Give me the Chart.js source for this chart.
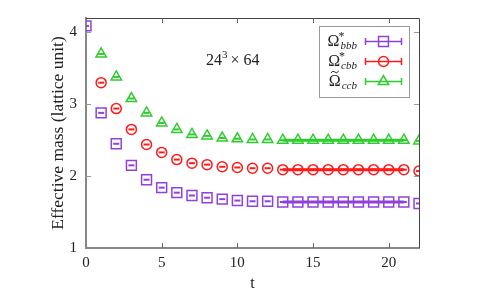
<!DOCTYPE html>
<html><head><meta charset="utf-8">
<script src="https://cdn.jsdelivr.net/npm/chart.js@4"></script>
<style>html,body{margin:0;padding:0;background:#fff}#wrap{width:488px;height:293px}</style>
</head><body><div id="wrap"><canvas id="c" width="488" height="293"></canvas></div>
<script>
const tValues = [0,1,2,3,4,5,6,7,8,9,10,11,12,13,14,15,16,17,18,19,20,21,22];
const bbb = [4.09,2.88,2.45,2.15,1.95,1.84,1.77,1.73,1.70,1.68,1.66,1.65,1.65,1.64,1.64,1.64,1.64,1.64,1.64,1.64,1.64,1.64,1.62];
const cbbT = tValues.slice(1);
const cbb = [3.30,2.94,2.65,2.44,2.33,2.23,2.18,2.16,2.13,2.12,2.11,2.11,2.09,2.09,2.09,2.09,2.09,2.09,2.09,2.09,2.09,2.07];
const ccbT = tValues.slice(1);
const ccb = [3.70,3.38,3.08,2.88,2.74,2.65,2.58,2.56,2.53,2.52,2.51,2.51,2.50,2.50,2.50,2.50,2.50,2.50,2.50,2.50,2.50,2.49];
const fitRange = [13, 21];
const fitValues = [1.64, 2.09, 2.50];
const fitErr = [0.015, 0.015, 0.015];
const xTicks = [0,5,10,15,20];
const yTicks = [1,2,3,4];
const seriesLabels = ['bbb','cbb','ccb'];
const colors = ['#9040e0','#ff1a1a','#2ecc2e'];
const light = ['rgba(144,64,224,0.35)','rgba(255,26,26,0.35)','rgba(46,204,46,0.35)'];
const styles = ['rect','circle','triangle'];
const radii = [7,5,6];
const xs = [tValues, cbbT, ccbT];
const ys = [bbb, cbb, ccb];
const FONT = "'Liberation Serif', 'DejaVu Serif', serif";

const datasets = [];
for (let i=0;i<3;i++){
  const pts = xs[i].map((t,k)=>({x:t,y:ys[i][k]}));
  datasets.push({data:[{x:fitRange[0],y:fitValues[i]+fitErr[i]},{x:fitRange[1],y:fitValues[i]+fitErr[i]}],showLine:true,borderWidth:0,pointRadius:0,fill:'+1',backgroundColor:light[i],borderColor:'transparent'});
  datasets.push({data:[{x:fitRange[0],y:fitValues[i]-fitErr[i]},{x:fitRange[1],y:fitValues[i]-fitErr[i]}],showLine:true,borderWidth:0,pointRadius:0,fill:false,borderColor:'transparent'});
  datasets.push({data:[{x:fitRange[0],y:fitValues[i]},{x:fitRange[1],y:fitValues[i]}],showLine:true,borderWidth:3,pointRadius:0,borderColor:colors[i]});
  datasets.push({data:pts,showLine:false,pointStyle:styles[i],pointRadius:radii[i],pointBorderWidth:1.5,pointBorderColor:colors[i],pointBackgroundColor:'transparent'});
  datasets.push({data:pts,showLine:false,pointStyle:'line',pointRadius:3,pointBorderWidth:2,pointBorderColor:colors[i]});
}

const deco = {
  id:'deco',
  afterDraw(chart){
    const ctx = chart.ctx, a = chart.chartArea, sx = chart.scales.x, sy = chart.scales.y;
    ctx.save();
    ctx.strokeStyle='#444'; ctx.lineWidth=1;
    ctx.beginPath(); ctx.moveTo(a.left,a.top+0.5); ctx.lineTo(a.right+0.5,a.top+0.5); ctx.lineTo(a.right+0.5,a.bottom); ctx.stroke();
    ctx.strokeStyle='#666';
    xTicks.forEach(v=>{ if(v===0) return; const p=Math.round(sx.getPixelForValue(v))+0.5;
      ctx.beginPath(); ctx.moveTo(p,a.bottom); ctx.lineTo(p,a.bottom-5); ctx.moveTo(p,a.top); ctx.lineTo(p,a.top+5); ctx.stroke();});
    ctx.strokeStyle='#999';
    yTicks.forEach(v=>{ if(v===1) return; const p=Math.round(sy.getPixelForValue(v))+0.5;
      ctx.beginPath(); ctx.moveTo(a.left,p); ctx.lineTo(a.left+5,p); ctx.moveTo(a.right,p); ctx.lineTo(a.right-5,p); ctx.stroke();});
    // annotation
    ctx.fillStyle='#222'; ctx.textBaseline='alphabetic';
    ctx.font='16px '+FONT; ctx.textAlign='left';
    let x=206, y=65;
    ctx.fillText('24',x,y); x+=ctx.measureText('24').width;
    ctx.font='11px '+FONT; ctx.fillText('3',x,y-7); x+=ctx.measureText('3').width+3;
    ctx.font='16px '+FONT; ctx.fillText('× 64',x,y);
    // legend
    const L=319,T=26,R=409,B=97;
    ctx.strokeStyle='#999'; ctx.lineWidth=1; ctx.fillStyle='#fff';
    ctx.fillRect(L,T,R-L,B-T); ctx.strokeRect(L+0.5,T+0.5,R-L,B-T);
    const rowY=[41,61,81];
    for(let i=0;i<3;i++){
      const cy=rowY[i];
      ctx.fillStyle='#222';
      ctx.font='italic 11px '+FONT; const subW=ctx.measureText(seriesLabels[i]).width;
      ctx.font='16px '+FONT; const omW=ctx.measureText('Ω').width;
      const right=357; const sx0=right-subW; const ox=sx0-omW-1;
      ctx.textAlign='left';
      ctx.fillText('Ω',ox,cy+5);
      if(i<2){ ctx.font='12px '+FONT; ctx.fillText('*',ox+omW-1,cy-1); }
      else {
        ctx.strokeStyle='#222'; ctx.lineWidth=1;
        const tx=ox+2, tw=omW-4, ty=cy-9;
        ctx.beginPath(); ctx.moveTo(tx,ty+1);
        ctx.quadraticCurveTo(tx+tw*0.25,ty-2,tx+tw*0.5,ty);
        ctx.quadraticCurveTo(tx+tw*0.75,ty+2,tx+tw,ty-1); ctx.stroke();
      }
      ctx.font='italic 11px '+FONT; ctx.fillText(seriesLabels[i],sx0,cy+8);
      ctx.strokeStyle=colors[i]; ctx.lineWidth=1.5;
      ctx.beginPath(); ctx.moveTo(365,cy+0.5); ctx.lineTo(402,cy+0.5);
      ctx.moveTo(365.5,cy-3); ctx.lineTo(365.5,cy+4); ctx.moveTo(401.5,cy-3); ctx.lineTo(401.5,cy+4); ctx.stroke();
      ctx.fillStyle='rgba(0,0,0,0)'; ctx.strokeStyle=colors[i]; ctx.lineWidth=1.5;
      Chart.helpers.drawPoint(ctx,{pointStyle:styles[i],radius:radii[i],borderWidth:1.5},383.5,cy+0.5);
    }
    ctx.restore();
  }
};

new Chart(document.getElementById('c'),{
  type:'scatter',
  data:{datasets},
  options:{
    responsive:false, animation:false, devicePixelRatio:1,
    layout:{padding:{left:48,top:14,right:69,bottom:0}},
    plugins:{legend:{display:false},tooltip:{enabled:false}},
    scales:{
      x:{type:'linear',min:0,max:22,
        afterFit(s){s.height=45;},
        afterBuildTicks(s){s.ticks=xTicks.map(v=>({value:v}));},
        grid:{display:false,drawTicks:false},
        border:{display:true,color:'#888',width:2},
        ticks:{color:'#222',font:{family:FONT,size:15},padding:6,maxRotation:0},
        title:{display:true,text:'t',color:'#222',font:{family:FONT,size:16},padding:{top:2,bottom:0}}},
      y:{type:'linear',min:1,max:4.2,
        afterFit(s){s.width=38;},
        afterBuildTicks(s){s.ticks=yTicks.map(v=>({value:v}));},
        grid:{display:false,drawTicks:false},
        border:{display:true,color:'#888',width:2},
        ticks:{color:'#222',font:{family:FONT,size:15},padding:9},
        title:{display:true,text:'Effective mass (lattice unit)',color:'#222',font:{family:FONT,size:17.5},padding:{top:0,bottom:0}}}
    }
  },
  plugins:[deco]
});
</script></body></html>
